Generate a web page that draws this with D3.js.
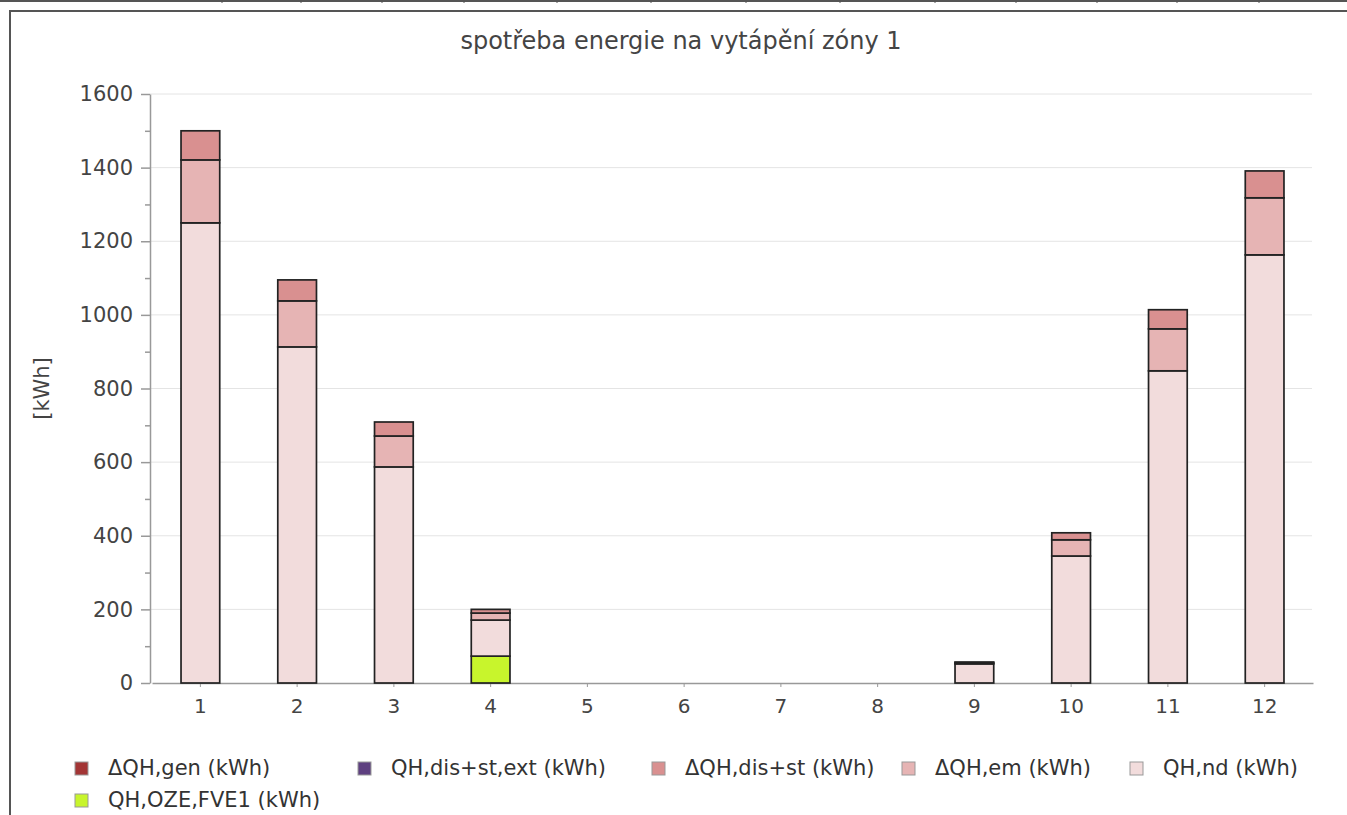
<!DOCTYPE html>
<html>
<head>
<meta charset="utf-8">
<script src="https://cdn.jsdelivr.net/npm/d3@7"></script>
<style>
  html, body { margin: 0; padding: 0; background: #fff; }
  svg { display: block; font-family: "DejaVu Sans", sans-serif; }
</style>
</head>
<body>
<div id="chart"></div>
<script>
// months
const months = ['1', '2', '3', '4', '5', '6', '7', '8', '9', '10', '11', '12'];

// series values (kWh), bottom of stack first
const qhOzeFve1 = [0, 0, 0, 73, 0, 0, 0, 0, 0, 0, 0, 0];
const qhNd = [1250, 913, 587, 98, 0, 0, 0, 0, 52, 345, 848, 1163];
const dQhEm = [171, 125, 84, 19, 0, 0, 0, 0, 3, 44, 114, 155];
const dQhDisSt = [79, 57, 38, 10, 0, 0, 0, 0, 2, 19, 52, 73];
const qhDisStExt = [0, 0, 0, 0, 0, 0, 0, 0, 0, 0, 0, 0];
const dQhGen = [0, 0, 0, 0, 0, 0, 0, 0, 0, 0, 0, 0];

const yTicks = d3.range(0, 1601, 100);
const yLabels = [0, 200, 400, 600, 800, 1000, 1200, 1400, 1600];

const series = [
  { key: 'fve', name: 'QH,OZE,FVE1 (kWh)', values: qhOzeFve1, color: '#c8f52c' },
  { key: 'nd', name: 'QH,nd (kWh)', values: qhNd, color: '#f2dcdc' },
  { key: 'em', name: 'ΔQH,em (kWh)', values: dQhEm, color: '#e6b4b4' },
  { key: 'dis', name: 'ΔQH,dis+st (kWh)', values: dQhDisSt, color: '#d99090' },
  { key: 'ext', name: 'QH,dis+st,ext (kWh)', values: qhDisStExt, color: '#5e4080' },
  { key: 'gen', name: 'ΔQH,gen (kWh)', values: dQhGen, color: '#a33535' }
];
const legendOrder = ['gen', 'ext', 'dis', 'em', 'nd', 'fve'];

const W = 1347, H = 815;
const margin = { top: 94, right: 35, bottom: 132, left: 150 };
const width = W - margin.left - margin.right;
const height = H - margin.top - margin.bottom;

const svg = d3.select('#chart').append('svg')
  .attr('width', W).attr('height', H);

// frame of the page around the chart
const frame = svg.append('g');
frame.append('line').attr('x1', 0).attr('x2', W).attr('y1', 1).attr('y2', 1)
  .attr('stroke', '#555').attr('stroke-width', 2);
[222, 301, 382, 464, 557, 651, 746, 840, 935, 1016, 1097, 1177, 1259].forEach(x => {
  frame.append('line').attr('x1', x).attr('x2', x).attr('y1', 0).attr('y2', 3)
    .attr('stroke', '#555').attr('stroke-width', 1);
});
frame.append('line').attr('x1', 9).attr('x2', W).attr('y1', 11).attr('y2', 11)
  .attr('stroke', '#555').attr('stroke-width', 2);
frame.append('line').attr('x1', 10).attr('x2', 10).attr('y1', 10).attr('y2', H)
  .attr('stroke', '#555').attr('stroke-width', 2);

// title
svg.append('text')
  .attr('x', 681).attr('y', 49)
  .attr('text-anchor', 'middle')
  .attr('fill', '#444')
  .style('font-size', '24px')
  .text('spotřeba energie na vytápění zóny 1');

const g = svg.append('g').attr('transform', `translate(${margin.left},${margin.top})`);

// --- Scales ---
const x = d3.scaleBand().domain(months).range([2, width + 1]).paddingInner(0.6).paddingOuter(0.3);
const y = d3.scaleLinear().domain([0, 1600]).range([height, 0]);

// --- Grid ---
g.append('g')
  .selectAll('line')
  .data(yLabels.filter(d => d > 0))
  .join('line')
    .attr('x1', 0).attr('x2', width)
    .attr('y1', d => y(d)).attr('y2', d => y(d))
    .attr('stroke', '#e4e4e4').attr('stroke-width', 1);

// --- Axes ---
const yAxis = g.append('g')
  .call(d3.axisLeft(y).tickValues(yTicks)
    .tickSize(0)
    .tickFormat(d => yLabels.includes(d) ? d : ''));
yAxis.select('.domain').attr('stroke', '#999').attr('stroke-width', 1.5);
yAxis.selectAll('.tick line')
  .attr('x2', d => yLabels.includes(d) ? -9 : -5)
  .attr('stroke', '#999').attr('stroke-width', 1.5);
yAxis.selectAll('text')
  .attr('x', -17)
  .attr('fill', '#444')
  .style('font-size', '21px')
  .style('font-family', '"DejaVu Sans", sans-serif');

const xAxis = g.append('g')
  .attr('transform', `translate(0,${height})`)
  .call(d3.axisBottom(x).tickSize(0).tickSizeOuter(0));
xAxis.select('.domain').attr('stroke', '#999').attr('stroke-width', 1.5);
xAxis.selectAll('.tick line').attr('y2', 4).attr('stroke', '#999');
xAxis.selectAll('text')
  .attr('y', 16)
  .attr('fill', '#444')
  .style('font-size', '20px')
  .style('font-family', '"DejaVu Sans", sans-serif');

// y axis title
svg.append('text')
  .attr('transform', `translate(49,${margin.top + height / 2}) rotate(-90)`)
  .attr('text-anchor', 'middle')
  .attr('fill', '#444')
  .style('font-size', '21px')
  .text('[kWh]');

// --- Stacked bars ---
const table = months.map((m, i) => {
  const row = { month: m };
  series.forEach(s => { row[s.key] = s.values[i]; });
  return row;
});
const stacked = d3.stack().keys(series.map(s => s.key))(table);

stacked.forEach((layer, li) => {
  g.append('g')
    .attr('fill', series[li].color)
    .selectAll('rect')
    .data(layer.filter(d => d[1] - d[0] > 0))
    .join('rect')
      .attr('x', d => x(d.data.month))
      .attr('width', x.bandwidth())
      .attr('y', d => y(d[1]))
      .attr('height', d => y(d[0]) - y(d[1]))
      .attr('stroke', '#222')
      .attr('stroke-width', 1.7);
});

// --- Legend ---
const legend = svg.append('g').style('font-size', '21px');
const legendPos = [
  { x: 75, y: 768 }, { x: 358, y: 768 }, { x: 652, y: 768 },
  { x: 902, y: 768 }, { x: 1130, y: 768 }, { x: 75, y: 800 }
];
legendOrder.forEach((k, i) => {
  const s = series.find(d => d.key === k);
  const item = legend.append('g').attr('transform', `translate(${legendPos[i].x},${legendPos[i].y})`);
  item.append('rect')
    .attr('x', 0).attr('y', -6).attr('width', 13).attr('height', 13)
    .attr('fill', s.color).attr('stroke', '#999').attr('stroke-width', 1);
  item.append('text')
    .attr('x', 33).attr('y', 7)
    .attr('fill', '#333')
    .text(s.name);
});
</script>
</body>
</html>
